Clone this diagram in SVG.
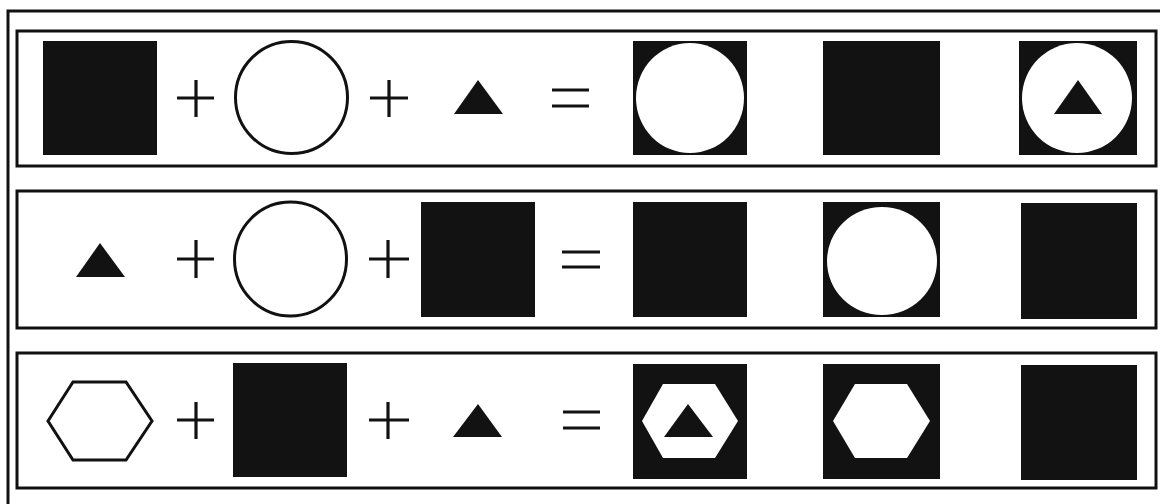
<svg xmlns="http://www.w3.org/2000/svg" width="1160" height="504" viewBox="0 0 1160 504">
<style>
.frame{fill:none;stroke:#111;stroke-width:3}
.row{fill:#fff;stroke:#111;stroke-width:3}
.blk{fill:#121212}
.wht{fill:#fff}
.ol{fill:#fff;stroke:#111;stroke-width:3}
.op{fill:none;stroke:#111;stroke-width:3.2}
</style>
<rect width="1160" height="504" fill="#fff"/>
<g id="outer-frame">
<path class="frame" d="M8,504 V11 H1160"/>
</g>
<g id="row1">
<rect class="row" x="17" y="31" width="1139" height="135"/>
<rect class="blk" x="43" y="41" width="114" height="114"/>
<path class="op" d="M177,98 H214 M196,80 V117"/>
<circle class="ol" cx="291.5" cy="97.5" r="56"/>
<path class="op" d="M370,98 H408 M389,80 V117"/>
<polygon class="blk" points="478,80 454,114 503,114"/>
<path class="op" d="M552,90 H589 M552,106 H589"/>
<rect class="blk" x="633" y="41" width="114" height="114"/>
<ellipse class="wht" cx="690" cy="98" rx="54" ry="55"/>
<rect class="blk" x="823" y="41" width="117" height="114"/>
<rect class="blk" x="1019" y="41" width="118" height="114"/>
<ellipse class="wht" cx="1077" cy="98" rx="55" ry="55"/>
<polygon class="blk" points="1078,80 1054,114 1102,114"/>
</g>
<g id="row2">
<rect class="row" x="17" y="191" width="1139" height="137"/>
<polygon class="blk" points="100,243 76,277 125,277"/>
<path class="op" d="M177,259 H214 M196,240 V278"/>
<ellipse class="ol" cx="290.5" cy="259" rx="56" ry="57"/>
<path class="op" d="M369,259 H409 M388,240 V278"/>
<rect class="blk" x="421" y="202" width="114" height="115"/>
<path class="op" d="M562,252 H600 M562,267 H600"/>
<rect class="blk" x="633" y="202" width="114" height="115"/>
<rect class="blk" x="823" y="202" width="117" height="115"/>
<ellipse class="wht" cx="882" cy="261" rx="55" ry="54"/>
<rect class="blk" x="1021" y="203" width="116" height="116"/>
</g>
<g id="row3">
<rect class="row" x="17" y="353" width="1139" height="135"/>
<polygon class="ol" points="48,421 73,382 126,382 152,421 126,460 73,460"/>
<path class="op" d="M177,420 H214 M196,402 V439"/>
<rect class="blk" x="233" y="363" width="114" height="114"/>
<path class="op" d="M369,420 H409 M388,402 V439"/>
<polygon class="blk" points="478,404 453,437 502,437"/>
<path class="op" d="M563,412 H600 M563,428 H600"/>
<rect class="blk" x="633" y="364" width="114" height="115"/>
<polygon class="wht" points="642,421 663,384 715,384 738,421 715,458 663,458"/>
<polygon class="blk" points="688,404 664,437 713,437"/>
<rect class="blk" x="823" y="364" width="117" height="115"/>
<polygon class="wht" points="833,421 855,384 907,384 930,421 907,458 855,458"/>
<rect class="blk" x="1021" y="365" width="116" height="115"/>
</g>
</svg>
